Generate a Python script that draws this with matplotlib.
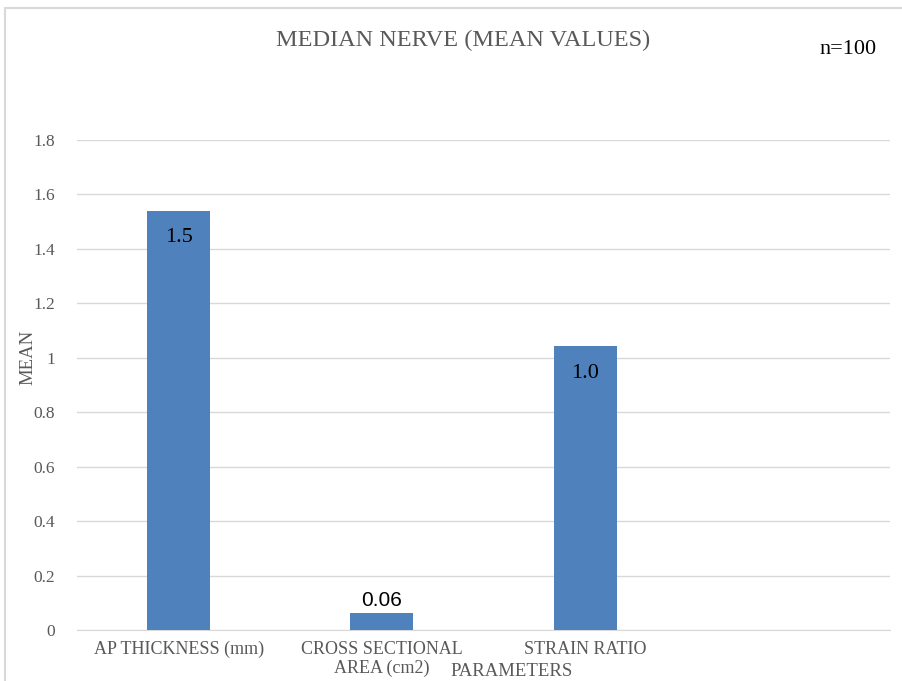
import matplotlib.pyplot as plt
from matplotlib.patches import Rectangle
import numpy as np

categories = ["AP THICKNESS (mm)", "CROSS SECTIONAL\nAREA (cm2)", "STRAIN RATIO", ""]
means = [1.54, 0.062, 1.043]
label_fmt = ["{:.1f}", "{:.2f}", "{:.1f}"]
yticks = [0, 0.2, 0.4, 0.6, 0.8, 1.0, 1.2, 1.4, 1.6, 1.8]
ytick_labels = ["0", "0.2", "0.4", "0.6", "0.8", "1", "1.2", "1.4", "1.6", "1.8"]

plt.rcParams['font.family'] = ['Liberation Serif', 'DejaVu Serif']
grey = '#595959'

fig = plt.figure(figsize=(9.03, 6.81), dpi=100)
fig.patches.append(Rectangle((5 / 903, -0.01), 1.0, 1 - 8 / 681 + 0.01,
                             transform=fig.transFigure, fill=False,
                             edgecolor='#d9d9d9', linewidth=1.5))
ax = fig.add_axes([77 / 903, 1 - 630 / 681, 813 / 903, 490 / 681])

x = np.arange(len(categories))
ax.bar(x[:len(means)], means, width=0.31, color='#4f81bd', zorder=3)
ax.set_xlim(-0.5, len(categories) - 0.5)
ax.set_ylim(0, 1.8)

for i, v in enumerate(means):
    txt = label_fmt[i].format(v)
    if v > 0.3:
        ax.text(i, v - 0.065, txt, ha='center', va='top', fontsize=16, color='black')
    else:
        ax.text(i, v + 0.01, txt, ha='center', va='bottom', fontsize=15,
                color='black', family='Liberation Sans')

ax.set_yticks(yticks)
ax.set_yticklabels(ytick_labels, fontsize=12.5, color=grey)
ax.set_xticks(x)
ax.set_xticklabels(categories, fontsize=13, color=grey, linespacing=1.15)
ax.tick_params(axis='both', length=0, pad=8)
ax.tick_params(axis='y', pad=16)
ax.grid(axis='y', color='#d9d9d9', linewidth=1, zorder=0)
for side in ['top', 'right', 'left']:
    ax.spines[side].set_visible(False)
ax.spines['bottom'].set_color('#d9d9d9')

fig.text(463 / 903, 1 - 40 / 681, "MEDIAN NERVE (MEAN VALUES)", ha='center', va='center',
         fontsize=17.5, color=grey)
fig.text(848 / 903, 1 - 50 / 681, "n=100", ha='center', va='center', fontsize=16, color='black')
fig.text(28 / 903, 1 - 357 / 681, "MEAN", ha='center', va='center', rotation=90,
         fontsize=13.5, color=grey)
fig.text(512 / 903, 1 - 672 / 681, "PARAMETERS", ha='center', va='center',
         fontsize=13.5, color=grey)

fig.savefig('out.png', dpi=100)
